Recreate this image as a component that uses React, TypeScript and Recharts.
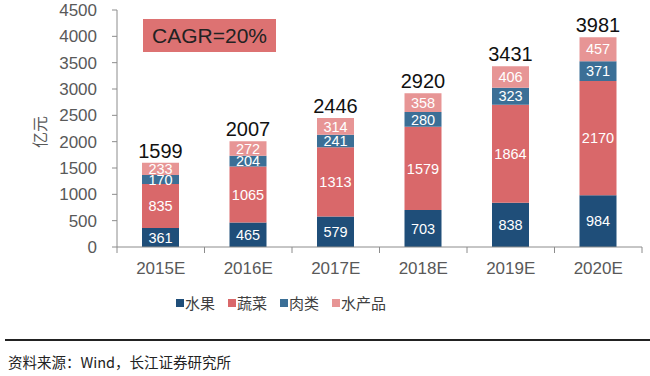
import { BarChart, Bar, XAxis, YAxis, LabelList } from "recharts";

const years = ["2015E", "2016E", "2017E", "2018E", "2019E", "2020E"];
const fruit = [361, 465, 579, 703, 838, 984];
const vegetable = [835, 1065, 1313, 1579, 1864, 2170];
const meat = [170, 204, 241, 280, 323, 371];
const seafood = [233, 272, 314, 358, 406, 457];
const totals = [1599, 2007, 2446, 2920, 3431, 3981];
const yTicks = [0, 500, 1000, 1500, 2000, 2500, 3000, 3500, 4000, 4500];

const SERIES = [
  { key: "fruit", name: "水果", color: "#1f4e79" },
  { key: "vegetable", name: "蔬菜", color: "#d9686a" },
  { key: "meat", name: "肉类", color: "#3b6f96" },
  { key: "seafood", name: "水产品", color: "#e79595" },
];

const data = years.map((year, i) => ({
  year,
  fruit: fruit[i],
  vegetable: vegetable[i],
  meat: meat[i],
  seafood: seafood[i],
  total: totals[i],
}));

const NUM_FONT = "'Liberation Sans', Arial, sans-serif";
const CJK_FONT = "'Noto Sans CJK SC', sans-serif";
const AXIS_GRAY = "#8c8c8c";

// category label plus tick marks at the band edges
function YearTick(props: any) {
  const { x, y, payload, index, visibleTicksCount } = props;
  const half = payload.offset ?? 0;
  const axisY = y - 6;
  const isLast = index === visibleTicksCount - 1;
  return (
    <g>
      <line x1={x - half} x2={x - half} y1={axisY} y2={axisY + 6} stroke={AXIS_GRAY} />
      {isLast && (
        <line x1={x + half} x2={x + half} y1={axisY} y2={axisY + 6} stroke={AXIS_GRAY} />
      )}
      <text
        x={x}
        y={y + 21}
        textAnchor="middle"
        fill="#595959"
        fontSize={17}
        fontFamily={NUM_FONT}
      >
        {payload.value}
      </text>
    </g>
  );
}

export default function App() {
  return (
    <div
      style={{
        position: "absolute",
        left: 0,
        top: 0,
        width: 650,
        height: 376,
        background: "#fff",
        fontFamily: CJK_FONT,
      }}
    >
      <BarChart
        width={650}
        height={376}
        data={data}
        margin={{ top: 10, right: 8, left: 57, bottom: 99 }}
        barSize={37}
      >
        <XAxis
          dataKey="year"
          tickLine={false}
          tickSize={6}
          tickMargin={0}
          height={30}
          axisLine={{ stroke: AXIS_GRAY }}
          tick={<YearTick />}
          interval={0}
        />
        <YAxis
          width={60}
          domain={[0, 4500]}
          ticks={yTicks}
          interval={0}
          tickSize={5}
          tickMargin={15}
          axisLine={{ stroke: AXIS_GRAY }}
          tickLine={{ stroke: AXIS_GRAY }}
          tick={{ fill: "#595959", fontSize: 17, fontFamily: NUM_FONT }}
        />
        {SERIES.map((s, idx) => (
          <Bar
            key={s.key}
            dataKey={s.key}
            name={s.name}
            stackId="a"
            fill={s.color}
            isAnimationActive={false}
          >
            <LabelList
              dataKey={s.key}
              position="center"
              fill="#fff"
              fontSize={14.5}
              fontFamily={NUM_FONT}
            />
            {idx === SERIES.length - 1 && (
              <LabelList
                dataKey="total"
                position="top"
                offset={5}
                fill="#111"
                fontSize={20}
                fontFamily={NUM_FONT}
              />
            )}
          </Bar>
        ))}
      </BarChart>

      {/* y axis unit */}
      <div
        style={{
          position: "absolute",
          left: 23,
          top: 122,
          fontSize: 16,
          color: "#595959",
          transform: "rotate(-90deg)",
          transformOrigin: "center",
          lineHeight: "20px",
        }}
      >
        亿元
      </div>

      {/* CAGR box */}
      <div
        style={{
          position: "absolute",
          left: 143,
          top: 19,
          width: 133,
          height: 33,
          background: "#dd7272",
          color: "#222",
          fontFamily: NUM_FONT,
          fontSize: 21,
          lineHeight: "33px",
          textAlign: "center",
        }}
      >
        CAGR=20%
      </div>

      {/* legend */}
      <div
        style={{
          position: "absolute",
          left: 176,
          top: 292,
          display: "flex",
          alignItems: "center",
          fontSize: 15,
          color: "#404040",
          lineHeight: "22px",
        }}
      >
        {SERIES.map((s) => (
          <div key={s.key} style={{ display: "flex", alignItems: "center", marginRight: 13 }}>
            <span
              style={{
                display: "inline-block",
                width: 8,
                height: 8,
                background: s.color,
                marginRight: 1,
              }}
            />
            {s.name}
          </div>
        ))}
      </div>

      {/* separator and source */}
      <div
        style={{
          position: "absolute",
          left: 5,
          right: 0,
          top: 339,
          height: 2,
          background: "#222",
        }}
      />
      <div
        style={{
          position: "absolute",
          left: 8,
          top: 351,
          fontSize: 14.5,
          color: "#222",
          lineHeight: "22px",
        }}
      >
        资料来源：Wind，长江证券研究所
      </div>
    </div>
  );
}
